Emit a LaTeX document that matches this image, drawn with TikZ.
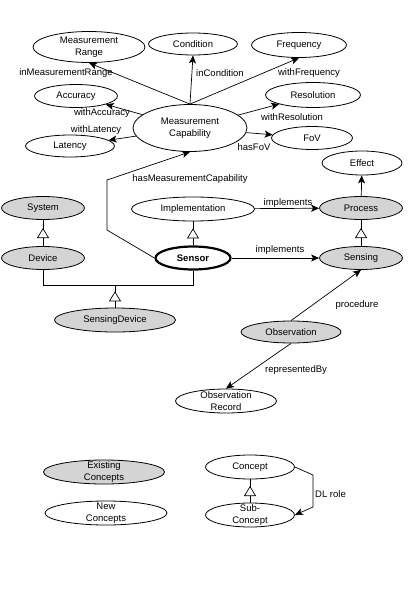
\documentclass[tikz,border=0pt]{standalone}
\usepackage{fontspec}
\setmainfont{Liberation Sans}
\usetikzlibrary{arrows.meta,shapes.geometric,decorations.markings}

\tikzset{
  concept/.style={ellipse, draw, line width=0.8pt, inner sep=0pt,
    minimum height=23pt, align=center,
    font=\fontsize{9.5}{11.5}\selectfont},
  known/.style={concept, fill=black!17},
  tight/.style={inner ysep=-2.5pt},
  role/.style={-{Stealth[length=8pt,width=7pt,inset=2pt]}, line width=0.7pt},
  isa/.style={line width=0.7pt, postaction=decorate,
    decoration={markings, mark=at position 0.5 with
      {\pgftransformxshift{5pt}\arrow{Triangle[fill=white,length=10pt,width=12pt]}}}},
  lbl/.style={inner sep=0pt, font=\fontsize{9.5}{11.5}\selectfont}
}

\begin{document}
\begin{tikzpicture}[x=1pt, y=-1pt]
  \useasboundingbox (0,0) rectangle (407,599);

  % Measurement capability and its properties
  \node[concept, minimum width=112pt, minimum height=31pt] (range) at (89,47) {Measurement\\Range};
  \node[concept, minimum width=89pt, minimum height=22pt] (cond) at (193,44) {Condition};
  \node[concept, minimum width=95pt, minimum height=25pt] (freq) at (299,45) {Frequency};
  \node[concept, minimum width=83pt] (acc) at (76,96) {Accuracy};
  \node[concept, minimum width=95pt, minimum height=25pt] (res) at (313,95) {Resolution};
  \node[concept, minimum width=114pt, minimum height=47pt] (mc) at (190,128) {Measurement\\Capability};
  \node[concept, minimum width=89pt, minimum height=22pt] (lat) at (70,146) {Latency};
  \node[concept, minimum width=81pt] (fov) at (312,138) {FoV};

  % Core concepts
  \node[concept, minimum width=80pt, minimum height=24pt] (effect) at (362,163) {Effect};
  \node[known, minimum width=83pt] (system) at (43,208) {System};
  \node[concept, minimum width=123pt, minimum height=24pt] (impl) at (193,209) {Implementation};
  \node[known, minimum width=83pt] (process) at (361,208) {Process};
  \node[known, minimum width=83pt] (device) at (43,258) {Device};
  \node[concept, line width=2.2pt, minimum width=75pt] (sensor) at (193,258) {\bfseries Sensor};
  \node[known, minimum width=83pt] (sensing) at (361,258) {Sensing};
  \node[known, minimum width=121pt, minimum height=24pt] (sdevice) at (115,320) {SensingDevice};
  \node[known, minimum width=100pt, minimum height=22pt] (obs) at (291,332) {Observation};
  \node[concept, tight, minimum width=101pt, minimum height=24pt] (obsrec) at (226,401) {Observation\\Record};

  % Legend
  \node[known, tight, minimum width=121pt, minimum height=24pt] (existing) at (104,472) {Existing\\Concepts};
  \node[concept, tight, minimum width=122pt, minimum height=24pt] (new) at (106,513) {New\\Concepts};
  \node[concept, minimum width=89pt, minimum height=24pt] (concept) at (250,467) {Concept};
  \node[concept, tight, minimum width=89pt, minimum height=24pt] (sub) at (250,515) {Sub-\\Concept};

  % Bends and junctions
  \coordinate (bendA) at (107,230);
  \coordinate (bendB) at (107,180);
  \coordinate (jl) at (43,285);
  \coordinate (jr) at (193,285);
  \coordinate (dlA) at (313,475);
  \coordinate (dlB) at (313,507);

  % Roles
  \draw[role] (mc.north) -- (range.south);
  \draw[role] (mc.north) -- (cond.south);
  \draw[role] (mc.north) -- (freq.south);
  \draw[role] (mc) -- (acc);
  \draw[role] (mc) -- (res);
  \draw[role] (mc) -- (lat);
  \draw[role] (mc) -- (fov);
  \draw[role] (sensor.west) -- (bendA) -- (bendB) -- (mc.south);
  \draw[role] (process) -- (effect);
  \draw[role] (impl) -- (process);
  \draw[role] (sensor) -- (sensing);
  \draw[role] (obs.north) -- (sensing.south);
  \draw[role] (obs.south) -- (obsrec.north);
  \draw[role] (concept.east) -- (dlA) -- (dlB) -- (sub.east);

  % Subclasses
  \draw[isa] (device) -- (system);
  \draw[isa] (sensor) -- (impl);
  \draw[isa] (sensing) -- (process);
  \draw[isa] (sub) -- (concept);
  \draw[line width=0.7pt] (device.south) -- (jl) -- (jr) -- (sensor.south);
  \draw[isa] (sdevice.north) -- (sdevice.north |- jl);

  % Role labels
  \node[lbl] (lRange) at (66,73) {inMeasurementRange};
  \node[lbl] (lCond) at (220,73) {inCondition};
  \node[lbl] (lFreq) at (309,73) {withFrequency};
  \node[lbl] (lAcc) at (102,113) {withAccuracy};
  \node[lbl] (lRes) at (292,117) {withResolution};
  \node[lbl] (lLat) at (96,130) {withLatency};
  \node[lbl] (lFov) at (254,147) {hasFoV};
  \node[lbl] (lMc) at (190,179) {hasMeasurementCapability};
  \node[lbl] (lImplA) at (288,203) {implements};
  \node[lbl] (lImplB) at (280,250) {implements};
  \node[lbl] (lProc) at (357,305) {procedure};
  \node[lbl] (lRep) at (296,370) {representedBy};
  \node[lbl, anchor=west] (lDl) at (315,494) {DL role};
\end{tikzpicture}
\end{document}
